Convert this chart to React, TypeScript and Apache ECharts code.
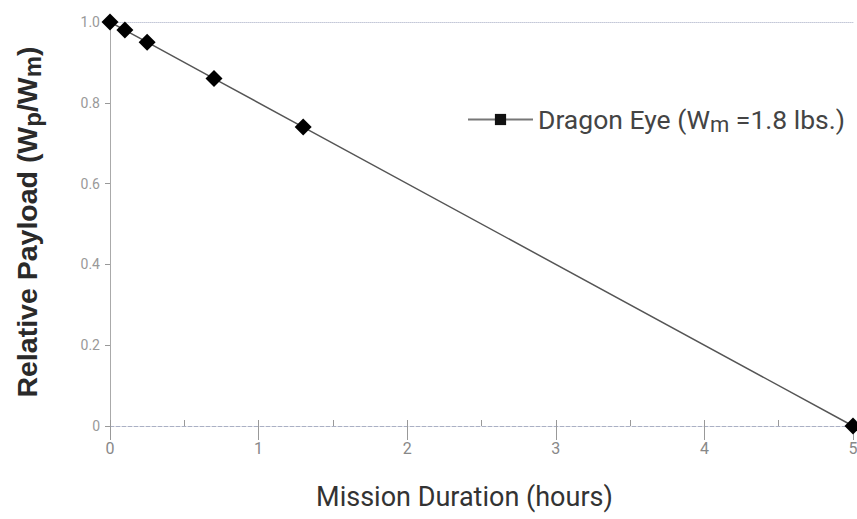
import React, { useEffect, useRef } from 'react';
import * as echarts from 'echarts';

const durationHours = [0, 0.1, 0.25, 0.7, 1.3, 5];
const relativePayload = [1.0, 0.98, 0.95, 0.86, 0.74, 0];
const seriesName = 'Dragon Eye (Wm =1.8 lbs.)';
const xAxisTitle = 'Mission Duration (hours)';

const labelFont = 'Roboto';
const titleFont = 'Arial';

export default function App() {
  const ref = useRef<HTMLDivElement>(null);
  useEffect(() => {
    if (!ref.current) return;
    const chart = echarts.init(ref.current, null, { renderer: 'svg' });
    const points = durationHours.map((x, i) => [x, relativePayload[i]]);
    chart.setOption({
      animation: false,
      backgroundColor: '#fff',
      grid: { left: 110, right: 4, top: 22, bottom: 93, outerBoundsMode: 'none', containLabel: false },
      legend: {
        data: [seriesName],
        left: 462,
        top: 101,
        itemWidth: 65,
        itemHeight: 14,
        itemGap: 10,
        formatter: () => '{a|Dragon Eye (W}{s|m}{a| =1.8 lbs.)}',
        textStyle: {
          rich: {
            a: { fontSize: 26.5, color: '#444', fontFamily: labelFont },
            s: { fontSize: 22, color: '#444', fontFamily: labelFont, padding: [9, 0, 0, 0] },
          },
        },
      },
      xAxis: [
        {
          type: 'value',
          min: 0,
          max: 5,
          interval: 1,
          position: 'bottom',
          name: xAxisTitle,
          nameLocation: 'middle',
          nameGap: 57,
          nameTextStyle: { fontSize: 27, color: '#333', fontFamily: labelFont, padding: [0, 34, 0, 0] },
          axisLine: { show: true, lineStyle: { color: '#aab0c4', type: 'dashed', width: 1 } },
          axisTick: { show: true, length: 14, lineStyle: { color: '#999', width: 1 } },
          axisLabel: { fontSize: 16, color: '#888', fontFamily: labelFont, margin: 14 },
          splitLine: { show: false },
        },
        {
          type: 'value',
          min: 0,
          max: 5,
          interval: 0.5,
          position: 'bottom',
          offset: 0,
          axisLine: { show: false },
          axisTick: { show: true, inside: true, length: 6, lineStyle: { color: '#999', width: 1 } },
          axisLabel: { show: false },
          splitLine: { show: false },
        },
        {
          type: 'value',
          min: 0,
          max: 5,
          position: 'top',
          axisLine: { show: true, lineStyle: { color: '#c4c8d8', type: 'dotted', width: 1 } },
          axisTick: { show: false },
          axisLabel: { show: false },
          splitLine: { show: false },
        },
      ],
      yAxis: [
        {
          type: 'value',
          min: 0,
          max: 1,
          interval: 0.2,
          position: 'left',
          name: '{a|Relative Payload (W}{s|p}{a|/W}{s|m}{a|)}',
          nameLocation: 'middle',
          nameRotate: 90,
          nameGap: 66,
          nameTextStyle: {
            padding: [0, 0, 0, 4],
            rich: {
              a: { fontSize: 28.5, fontWeight: 'bold', color: '#2a2a2a', fontFamily: titleFont },
              s: { fontSize: 24, fontWeight: 'bold', color: '#2a2a2a', fontFamily: titleFont, padding: [10, 0, 0, 0] },
            },
          },
          axisLine: { show: true, lineStyle: { color: '#999', width: 1 } },
          axisTick: { show: true, length: 5, lineStyle: { color: '#999' } },
          axisLabel: {
            fontSize: 14,
            color: '#999',
            fontFamily: labelFont,
            margin: 10,
            formatter: (v: number) => (v === 0 ? '0' : v.toFixed(1)),
          },
          splitLine: { show: false },
        },
        {
          type: 'value',
          min: 0,
          max: 1,
          position: 'right',
          axisLine: { show: true, lineStyle: { color: '#aaa', width: 1 } },
          axisTick: { show: false },
          axisLabel: { show: false },
          splitLine: { show: false },
        },
      ],
      series: [
        {
          name: 'main',
          type: 'line',
          data: points,
          symbol: 'diamond',
          symbolSize: 17,
          clip: false,
          lineStyle: { color: '#555', width: 1.5 },
          itemStyle: { color: '#000' },
          z: 5,
        },
        {
          name: seriesName,
          type: 'line',
          data: [],
          symbol: 'rect',
          lineStyle: { color: '#777', width: 1.5 },
          itemStyle: { color: '#111' },
        },
      ],
    });
    return () => chart.dispose();
  }, []);
  return <div ref={ref} style={{ position: 'absolute', left: 0, top: 0, width: 857, height: 519 }} />;
}
